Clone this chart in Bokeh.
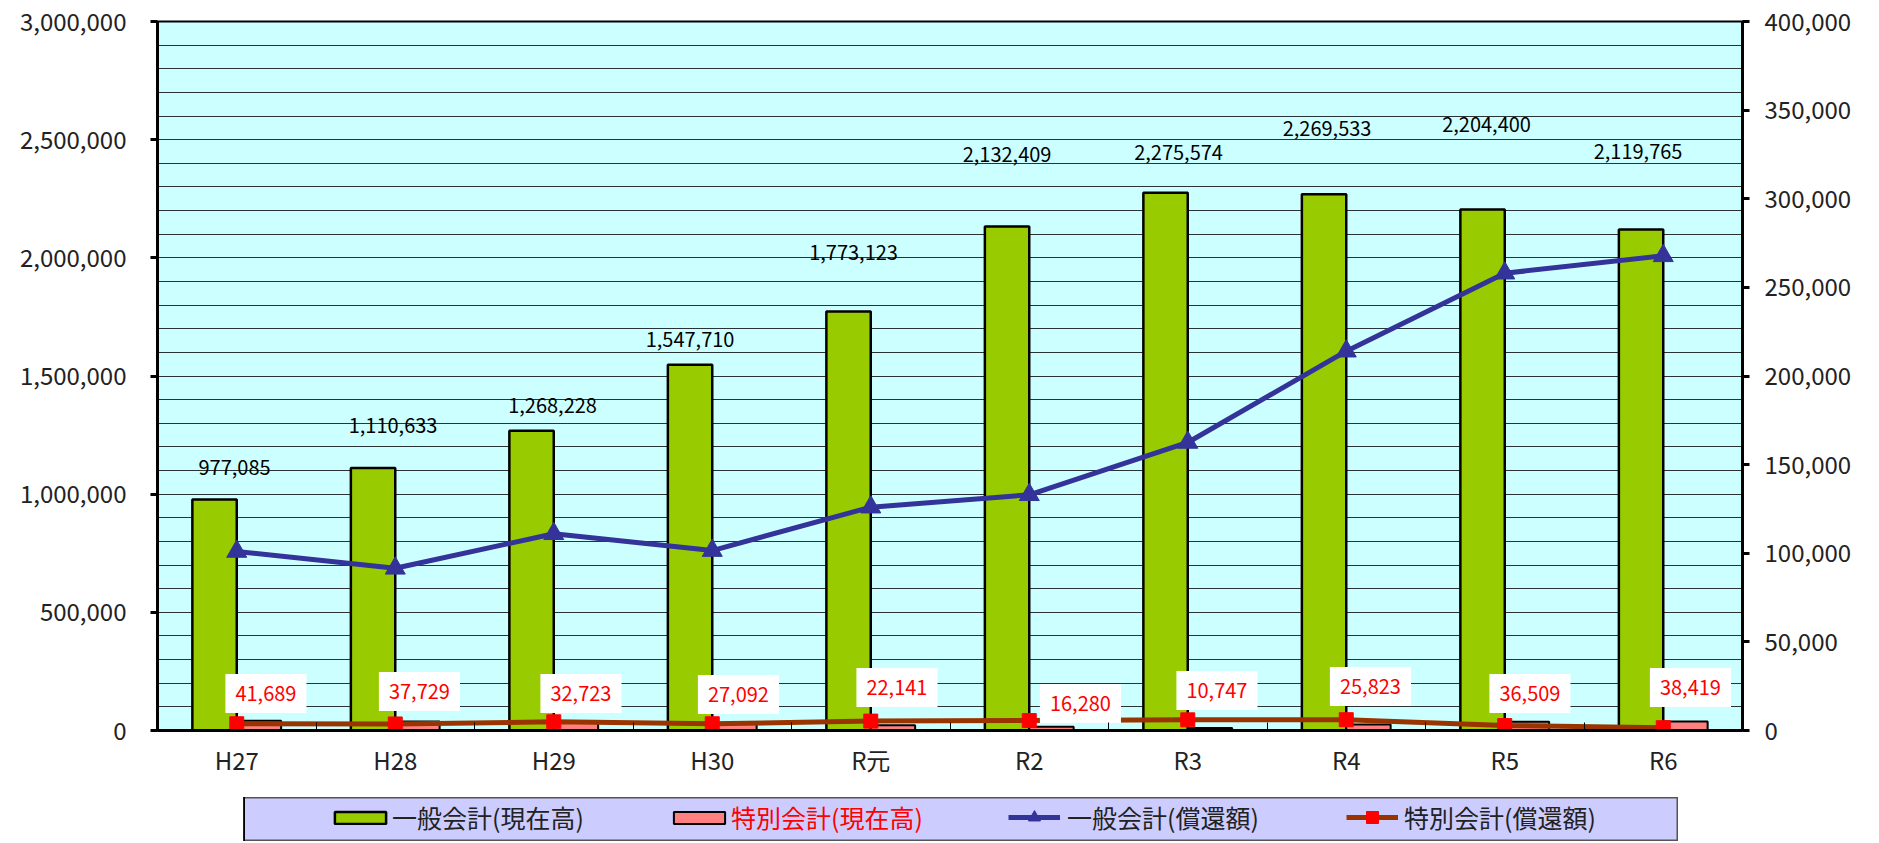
import numpy as np
from bokeh.plotting import figure
from bokeh.layouts import column, row
from bokeh.models import (Range1d, LinearAxis, FixedTicker, SingleIntervalTicker,
                          NumeralTickFormatter, ColumnDataSource, Legend, LegendItem, Spacer)
from bokeh.core.properties import value
from bokeh.transform import dodge
from bokeh.embed import file_html
from bokeh.resources import INLINE

# ---------------- data ----------------
categories = ["H27", "H28", "H29", "H30", "R元", "R2", "R3", "R4", "R5", "R6"]
general_balance = [977085, 1110633, 1268228, 1547710, 1773123, 2132409, 2275574, 2269533, 2204400, 2119765]
special_balance = [41689, 37729, 32723, 27092, 22141, 16280, 10747, 25823, 36509, 38419]
general_repay = [101000, 91500, 111000, 101500, 126000, 133000, 162500, 214000, 258000, 267800]
special_repay = [3800, 3700, 4900, 3800, 5300, 5600, 6000, 6100, 2800, 1600]

# label placement (pixel nudges, as hand-placed in the original)
black_label_dx = [20, 20, 21, 0, 5, 0, 13, 3, 4, -3]
black_label_lift = [32, 43, 25, 25, 59, 72, 40, 66, 85, 78]
red_label_dx = [7, 2, 5, 4, 4, 29, 7, 2, 3, 5]
red_label_lift = [37, 39, 37, 36, 43, 27, 40, 44, 37, 43]

FONT = "Noto Sans CJK JP"
GREEN = "#99CC00"
PINK = "#FF8080"
BLUE = "#333399"
BROWN = "#993300"

n = len(categories)
src = ColumnDataSource(dict(
    x=np.arange(n),
    gb=general_balance,
    sb=special_balance,
    gr=general_repay,
    sr=special_repay,
    gb_txt=[f"{v:,}" for v in general_balance],
    sb_txt=[f"{v:,}" for v in special_balance],
    gdx=black_label_dx,
    gdy=[-v for v in black_label_lift],
    sdx=red_label_dx,
    sdy=[-v for v in red_label_lift],
    zero=[0] * n,
))

p = figure(frame_width=1585, frame_height=709,
           min_border_left=157, min_border_right=137, min_border_top=21, min_border_bottom=67,
           x_range=Range1d(-0.5, n - 0.5), y_range=Range1d(0, 3000000),
           output_backend="svg", toolbar_location=None,
           background_fill_color="#CCFFFF", border_fill_color="white")
p.outline_line_color = "black"
p.outline_line_width = 2

# grid
p.xgrid.visible = False
p.ygrid.ticker = SingleIntervalTicker(interval=100000, num_minor_ticks=0)
p.ygrid.grid_line_color = "black"
p.ygrid.grid_line_alpha = 0.8
p.ygrid.grid_line_width = 1

# left axis
ly = p.yaxis[0]
ly.ticker = SingleIntervalTicker(interval=500000, num_minor_ticks=0)
ly.formatter = NumeralTickFormatter(format="0,0")
ly.axis_line_width = 3
ly.major_tick_out = 7
ly.major_tick_in = 0
ly.major_tick_line_width = 3
ly.minor_tick_out = 0
ly.minor_tick_in = 0
ly.major_label_standoff = 24
ly.major_label_text_font = FONT
ly.major_label_text_font_size = "24px"
ly.major_label_text_color = "#222222"

# right axis
p.extra_y_ranges = {"r": Range1d(0, 400000)}
ry = LinearAxis(y_range_name="r",
                ticker=SingleIntervalTicker(interval=50000, num_minor_ticks=0),
                formatter=NumeralTickFormatter(format="0,0"))
ry.axis_line_width = 3
ry.major_tick_out = 7
ry.major_tick_in = 0
ry.major_tick_line_width = 3
ry.minor_tick_out = 0
ry.minor_tick_in = 0
ry.major_label_standoff = 15
ry.major_label_text_font = FONT
ry.major_label_text_font_size = "24px"
ry.major_label_text_color = "#222222"
p.add_layout(ry, "right")

# x axis
xa = p.xaxis[0]
xa.ticker = FixedTicker(ticks=list(range(n)), minor_ticks=list(np.arange(-0.5, n, 1.0)))
xa.major_label_overrides = {i: c for i, c in enumerate(categories)}
xa.axis_line_width = 3
xa.major_tick_in = 0
xa.major_tick_out = 0
xa.minor_tick_in = 8
xa.minor_tick_out = 0
xa.minor_tick_line_color = "black"
xa.minor_tick_line_width = 1
xa.major_label_standoff = 11
xa.major_label_text_font = FONT
xa.major_label_text_font_size = "24px"
xa.major_label_text_color = "#222222"

# bars
bar_kw_g = dict(fill_color=GREEN, line_color="black", line_width=2.5)
bar_kw_s = dict(fill_color=PINK, line_color="black", line_width=2)
line_kw_g = dict(line_color=BLUE, line_width=5)
mark_kw_g = dict(marker="triangle", fill_color=BLUE, line_color=BLUE)
line_kw_s = dict(line_color=BROWN, line_width=5)
mark_kw_s = dict(marker="square", fill_color="#FF0000", line_color="#FF0000")

g = p.vbar(x=dodge("x", -0.14), top="gb", width=0.28, source=src, **bar_kw_g)
s = p.vbar(x=dodge("x", 0.14), top="sb", width=0.28, source=src, **bar_kw_s)

# lines on right axis
gl = p.line("x", "gr", source=src, y_range_name="r", **line_kw_g)
gm = p.scatter("x", "gr", source=src, y_range_name="r", size=20, **mark_kw_g)
sl = p.line("x", "sr", source=src, y_range_name="r", **line_kw_s)
sm = p.scatter("x", "sr", source=src, y_range_name="r", size=14, **mark_kw_s)

# data labels
p.text(x=dodge("x", -0.14), y="gb", text="gb_txt", source=src,
       x_offset="gdx", y_offset="gdy",
       text_align="center", text_baseline="middle",
       text_font=value(FONT), text_font_size="20px", text_color="black")
p.text(x=dodge("x", 0.14), y="zero", text="sb_txt", source=src,
       x_offset="sdx", y_offset="sdy",
       text_align="center", text_baseline="middle",
       text_font=value(FONT), text_font_size="20px", text_color="#FF0000",
       background_fill_color="white", padding=dict(left=10, right=10, top=12, bottom=12))

# ---------------- legend strip ----------------
# the legend lives in its own strip; its renderers reuse the data but sit outside the strip's view
lf = figure(width=1435, height=44, x_range=Range1d(1000, 1001), y_range=Range1d(0, 1),
            x_axis_type=None, y_axis_type=None, min_border=0,
            output_backend="svg", toolbar_location=None,
            background_fill_color="#CCCCFF", border_fill_color="#CCCCFF")
lf.grid.visible = False
lf.outline_line_color = "#555555"
lf.outline_line_width = 2

dg = lf.vbar(x="x", top="gb", width=0.28, source=src, **bar_kw_g)
ds = lf.vbar(x="x", top="sb", width=0.28, source=src, **bar_kw_s)
dgl = lf.line("x", "gr", source=src, **line_kw_g)
dgm = lf.scatter("x", "gr", source=src, **mark_kw_g)
dsl = lf.line("x", "sr", source=src, **line_kw_s)
dsm = lf.scatter("x", "sr", source=src, **mark_kw_s)

def mk_legend(label, renderers, vx, vy, gw, gh, standoff, color):
    lg = Legend(items=[LegendItem(label=label, renderers=renderers)],
                location=(vx, vy), orientation="horizontal",
                glyph_width=gw, glyph_height=gh, label_standoff=standoff,
                label_text_font=FONT, label_text_font_size="25px",
                label_text_color=color,
                padding=0, margin=0, spacing=0,
                background_fill_alpha=0, border_line_alpha=0)
    lf.add_layout(lg)

mk_legend("一般会計(現在高)", [dg], 85, 6, 64, 15, 0, "#222222")
mk_legend("特別会計(現在高)", [ds], 424, 6, 64, 15, 0, "#FF0000")
mk_legend("一般会計(償還額)", [dgl, dgm], 765, 6, 52, 30, 7, "#222222")
mk_legend("特別会計(償還額)", [dsl, dsm], 1103, 6, 52, 30, 6, "#222222")

layout = column(p, row(Spacer(width=243, height=44), lf))

open("out.html", "w").write(file_html(layout, INLINE))
